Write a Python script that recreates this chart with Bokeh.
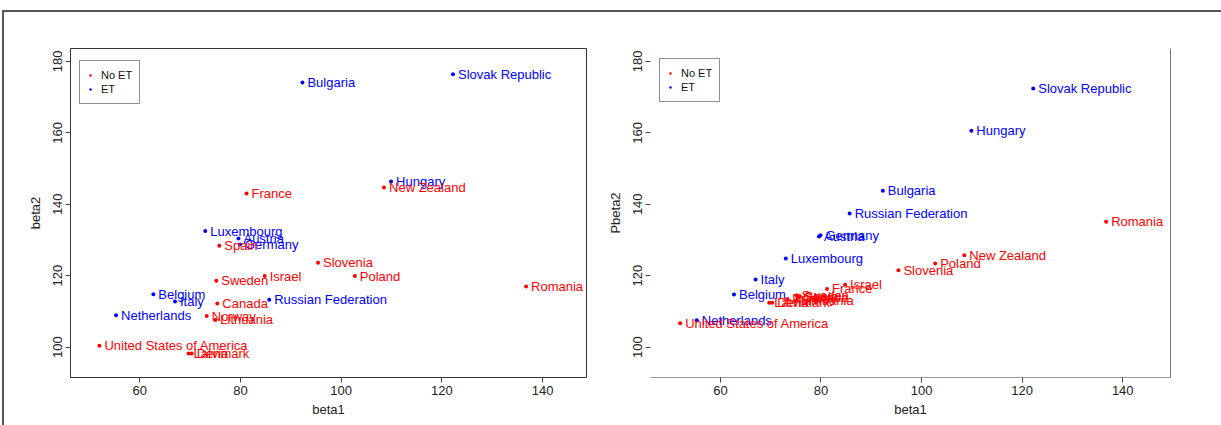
import math
from bokeh.plotting import figure
from bokeh.models import (ColumnDataSource, Legend, LegendItem, LinearAxis,
                          FixedTicker, Range1d, CDSView, GroupFilter)
from bokeh.layouts import row
from bokeh.embed import file_html
from bokeh.resources import INLINE
from bokeh.core.properties import value

# ---------------- data ----------------
countries = ["Bulgaria", "Slovak Republic", "Hungary", "New Zealand", "France",
             "Luxembourg", "Austria", "Germany", "Spain", "Slovenia", "Poland",
             "Israel", "Sweden", "Belgium", "Italy", "Canada",
             "Russian Federation", "Norway", "Lithuania", "Netherlands",
             "United States of America", "Latvia", "Denmark", "Romania"]
group = ["ET", "ET", "ET", "No ET", "No ET",
         "ET", "ET", "ET", "No ET", "No ET", "No ET",
         "No ET", "No ET", "ET", "ET", "No ET",
         "ET", "No ET", "No ET", "ET",
         "No ET", "No ET", "No ET", "No ET"]
beta1 = [92.3, 122.2, 109.9, 108.5, 81.2,
         73.0, 79.6, 79.9, 75.8, 95.4, 102.7,
         84.8, 75.2, 62.7, 67.0, 75.4,
         85.7, 73.3, 75.0, 55.3,
         52.0, 69.7, 70.3, 136.7]
beta2 = [174.1, 176.4, 146.4, 144.7, 143.0,
         132.5, 130.4, 128.7, 128.4, 123.6, 119.9,
         119.9, 118.6, 114.8, 112.8, 112.2,
         113.3, 108.7, 107.6, 108.9,
         100.4, 98.2, 98.2, 117.0]
pbeta2 = [143.8, 172.4, 160.6, 125.7, 116.3,
          124.8, 131.0, 131.3, 114.2, 121.5, 123.4,
          117.5, 114.5, 114.7, 118.9, 113.8,
          137.4, 113.5, 113.0, 107.5,
          106.7, 112.4, 112.4, 135.1]
legend_labels = ["No ET", "ET"]
group_colors = ["#FF0000", "#0000FF"]
x_ticks = [60, 80, 100, 120, 140]
y_ticks = [100, 120, 140, 160, 180]

FONT = "Liberation Sans"
cmap = dict(zip(legend_labels, group_colors))


def make_panel(yvals, ylabel, xr, frame_w, left_b, right_b, boxed, leg_loc):
    src = ColumnDataSource(dict(x=beta1, y=yvals, name=countries, grp=group,
                                col=[cmap[g] for g in group]))
    p = figure(frame_width=frame_w, frame_height=329,
               min_border_left=left_b, min_border_right=right_b,
               min_border_top=36, min_border_bottom=48,
               x_range=Range1d(*xr), y_range=Range1d(91.5, 183.6),
               output_backend="svg", toolbar_location=None,
               background_fill_color="white", border_fill_color="white")
    p.grid.visible = False
    p.xaxis.ticker = FixedTicker(ticks=x_ticks)
    p.yaxis.ticker = FixedTicker(ticks=y_ticks)
    for ax in (p.xaxis[0], p.yaxis[0]):
        ax.major_tick_in = 0
        ax.major_tick_out = 5
        ax.minor_tick_line_color = None
        ax.major_label_text_font = FONT
        ax.major_label_text_font_size = "13px"
        ax.major_label_text_color = "#222222"
        ax.axis_label_text_font = FONT
        ax.axis_label_text_font_size = "13px"
        ax.axis_label_text_font_style = "normal"
        ax.axis_label_text_color = "#222222"
        ax.major_tick_line_color = "#444444"
    p.xaxis.axis_label = "beta1"
    p.yaxis.axis_label = ylabel
    p.xaxis.major_label_standoff = 3
    p.xaxis.axis_label_standoff = 4
    p.yaxis.major_label_orientation = "parallel"
    p.yaxis.major_label_standoff = 3
    p.yaxis.axis_label_standoff = 8
    if boxed:
        p.outline_line_color = "#333333"
        p.outline_line_width = 1
        p.outline_line_alpha = 1
        p.xaxis.axis_line_color = "#333333"
        p.yaxis.axis_line_color = "#333333"
    else:
        p.outline_line_color = None
        p.xaxis.axis_line_color = "#999999"
        p.yaxis.axis_line_color = None
        rax = LinearAxis(ticker=FixedTicker(ticks=[]), major_label_text_font_size="0px",
                         axis_line_color="#777777", major_tick_line_color=None,
                         minor_tick_line_color=None)
        p.add_layout(rax, "right")

    items = []
    for lab in legend_labels:
        view = CDSView(filter=GroupFilter(column_name="grp", group=lab))
        r = p.scatter("x", "y", source=src, view=view, size=4,
                      color=cmap[lab], line_width=0)
        items.append(LegendItem(label=lab, renderers=[r]))
    p.text("x", "y", text="name", source=src, x_offset=5,
           text_baseline="middle", text_align="left",
           text_font=value(FONT), text_font_size="13px", text_color="col")

    leg = Legend(items=items, location=leg_loc, orientation="vertical",
                 padding=7, spacing=0, margin=0,
                 glyph_width=6, glyph_height=14, label_height=14,
                 label_standoff=8, label_text_font=FONT,
                 label_text_font_size="11px", label_text_color="#111111",
                 border_line_color="#222222", border_line_width=1,
                 background_fill_color="white", background_fill_alpha=1)
    p.add_layout(leg, "center")
    return p


p1 = make_panel(beta2, "beta2", (46.25, 148.7), 516, 66, 4, True, (9, 273))
p2 = make_panel(pbeta2, "Pbeta2", (46.1, 149.5), 520, 60, 51, False, (9, 275))

layout = row(p1, p2, styles={"border-left": "2px solid #555555",
                             "border-top": "2px solid #555555",
                             "margin-left": "2px", "margin-top": "10px"})

open("out.html", "w").write(file_html(layout, INLINE))
